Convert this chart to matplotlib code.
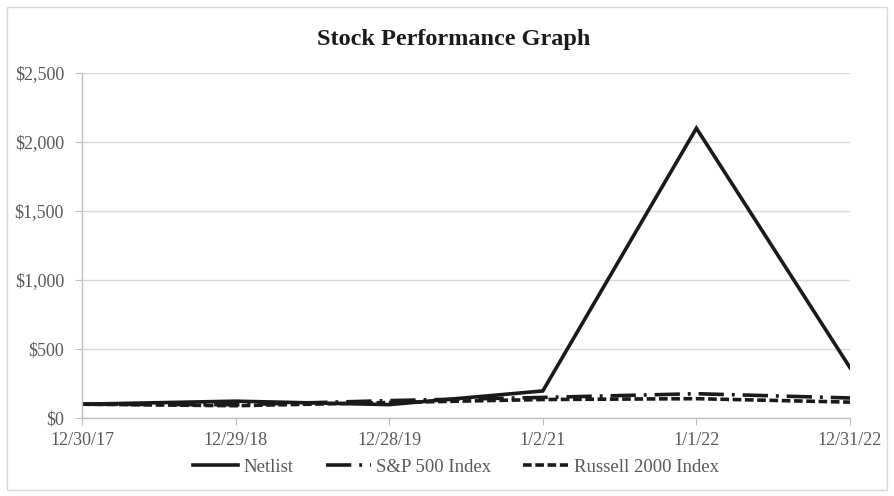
import matplotlib
matplotlib.use("Agg")
import matplotlib.pyplot as plt
from matplotlib.patches import Rectangle

dates = ["12/30/17", "12/29/18", "12/28/19", "1/2/21", "1/1/22", "12/31/22"]
netlist = [100, 122, 97, 196, 2100, 365]
sp500 = [100, 96, 126, 149, 176, 145]
russell = [100, 89, 112, 134, 140, 115]
yticks = [0, 500, 1000, 1500, 2000, 2500]
ylabels = ["$0", "$500", "$1,000", "$1,500", "$2,000", "$2,500"]

plt.rcParams['font.family'] = ['Liberation Serif', 'DejaVu Serif']

fig = plt.figure(figsize=(8.94, 4.96), dpi=100)
fig.patches.append(Rectangle((7/894, 6/496), 880/894, 483/496, transform=fig.transFigure,
                             fill=False, edgecolor='#d9d9d9', linewidth=1.0))
ax = fig.add_axes([82/894, 78/496, 768/894, 345/496])

x = list(range(len(dates)))
ax.plot(x, netlist, color='#1a1a1a', lw=2.6, solid_joinstyle='miter', label='Netlist')
ax.plot(x, sp500, color='#1a1a1a', lw=2.6, dashes=(7, 2.2, 0.8, 2.2), label='S&P 500 Index')
ax.plot(x, russell, color='#1a1a1a', lw=2.6, dashes=(2.4, 1.0), label='Russell 2000 Index')

ax.set_xlim(0, 5)
ax.set_ylim(0, 2500)
ax.set_yticks(yticks)
ax.set_yticklabels(ylabels)
ax.set_xticks(x)
ax.set_xticklabels(dates)
ax.grid(axis='y', color='#d9d9d9', lw=1.0)
ax.set_axisbelow(True)
for s in ['top', 'right']:
    ax.spines[s].set_visible(False)
for s in ['left', 'bottom']:
    ax.spines[s].set_color('#bfbfbf')
    ax.spines[s].set_linewidth(1.0)
ax.tick_params(axis='both', colors='#bfbfbf', labelcolor='#595959', labelsize=13, length=5)
ax.tick_params(axis='x', pad=5)
ax.tick_params(axis='y', pad=8)

fig.text(454/894, 1 - 40/496, "Stock Performance Graph", ha='center', va='center',
         fontsize=17.5, fontweight='bold', color='#1a1a1a')

leg = fig.legend(loc='center', bbox_to_anchor=(456/894, 29/496), ncol=3, frameon=False,
                 fontsize=13.5, handlelength=2.4, columnspacing=1.7, handletextpad=0.3)
for t in leg.get_texts():
    t.set_color('#595959')

fig.savefig("out.png", dpi=100)
